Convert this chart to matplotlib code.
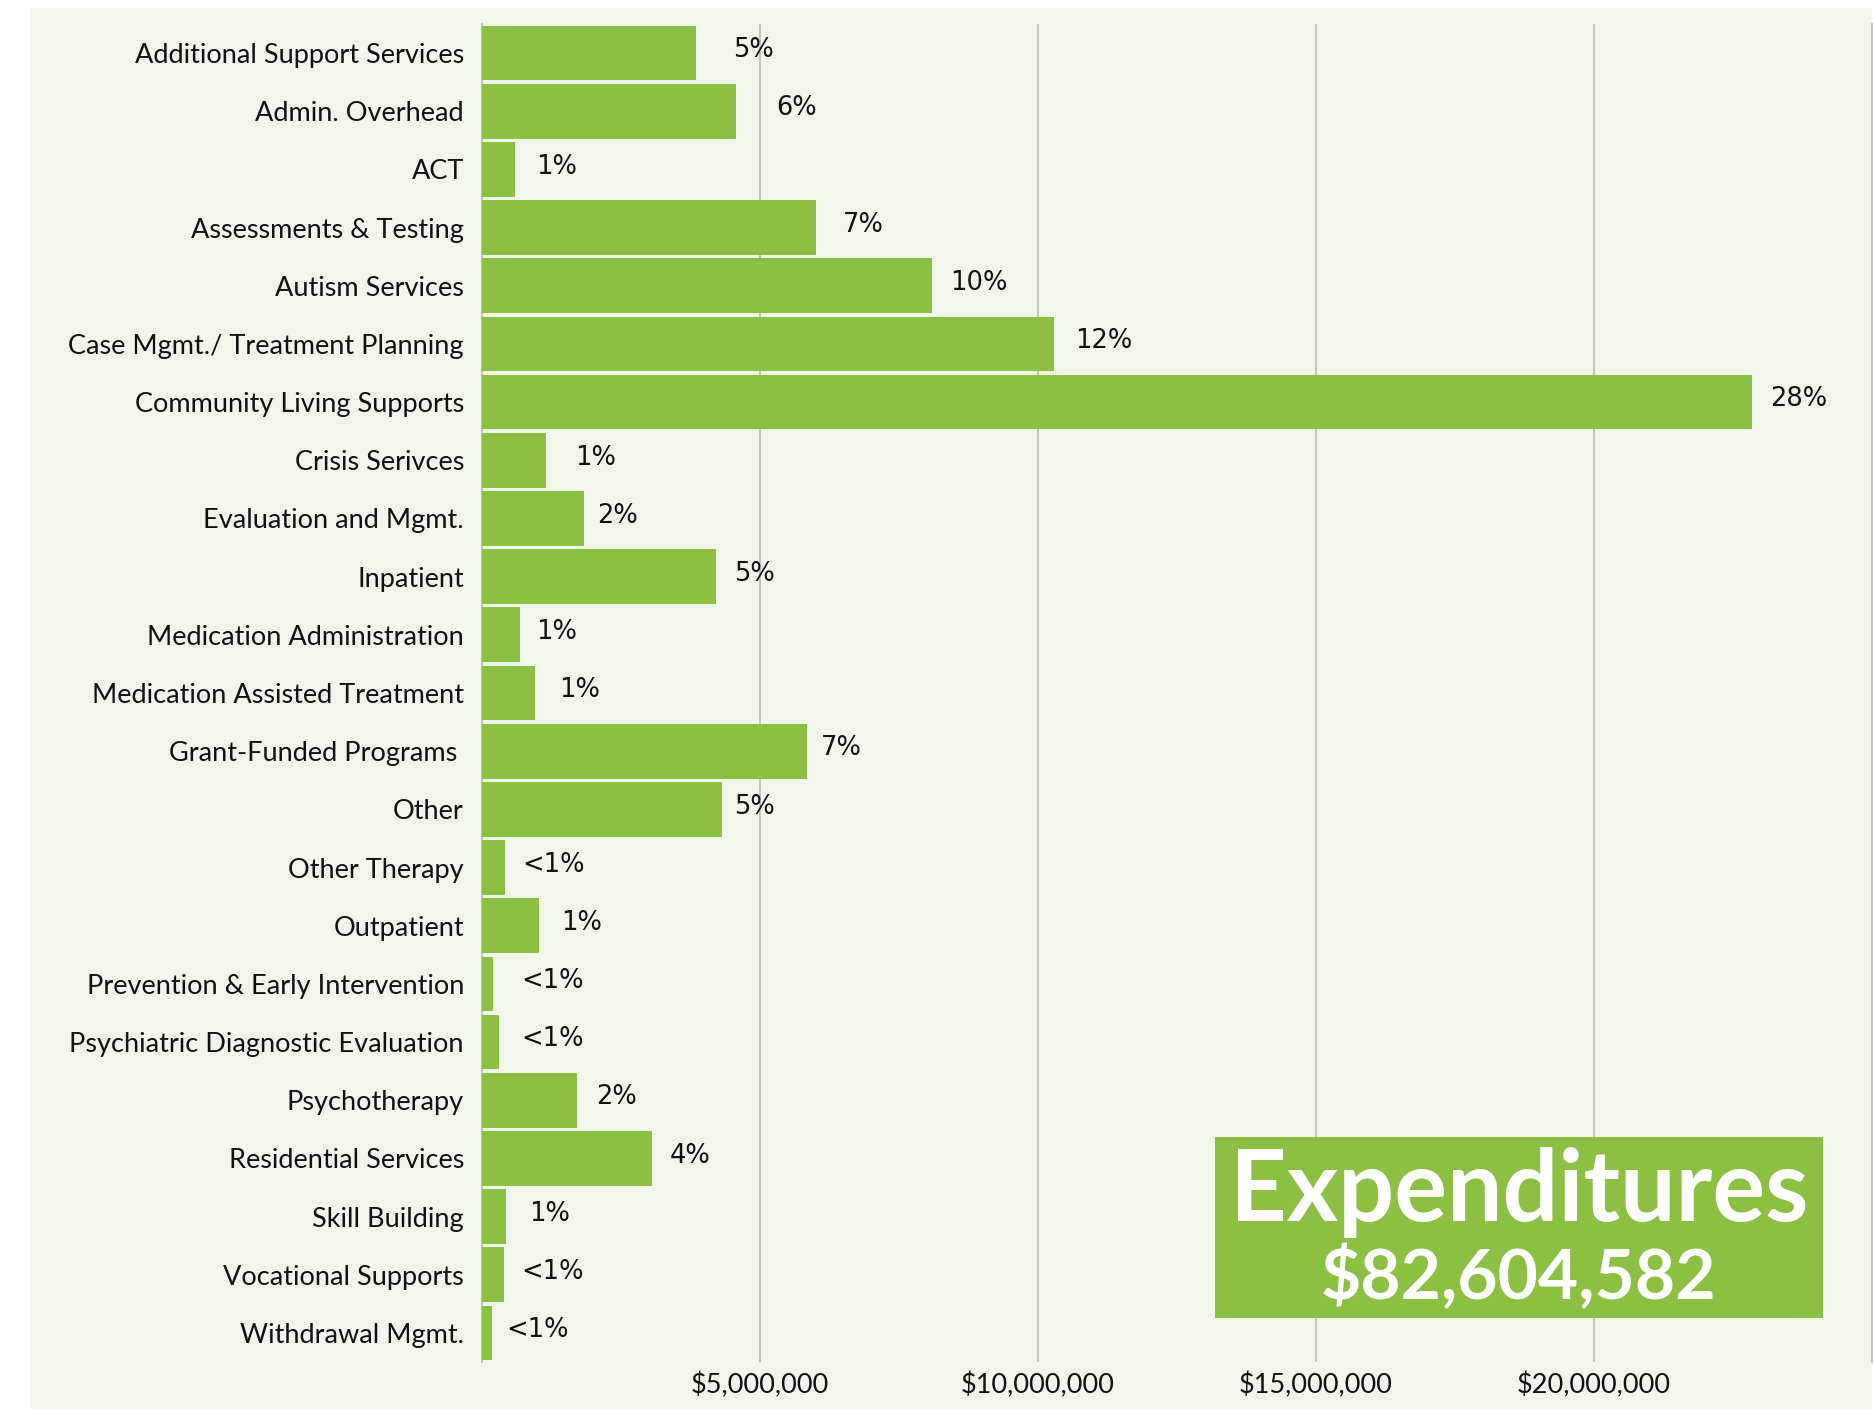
import numpy as np
import matplotlib
matplotlib.use("Agg")
import matplotlib.pyplot as plt
from matplotlib.patches import Rectangle
from matplotlib.transforms import ScaledTranslation

# ---- data ----
categories = [
    "Additional Support Services", "Admin. Overhead", "ACT", "Assessments & Testing",
    "Autism Services", "Case Mgmt./ Treatment Planning", "Community Living Supports",
    "Crisis Serivces", "Evaluation and Mgmt.", "Inpatient", "Medication Administration",
    "Medication Assisted Treatment", "Grant-Funded Programs ", "Other", "Other Therapy",
    "Outpatient", "Prevention & Early Intervention", "Psychiatric Diagnostic Evaluation",
    "Psychotherapy", "Residential Services", "Skill Building", "Vocational Supports",
    "Withdrawal Mgmt.",
]
amounts = [3.84e6, 4.57e6, 0.59e6, 6.01e6, 8.10e6, 10.29e6, 22.85e6, 1.15e6, 1.84e6,
           4.20e6, 0.68e6, 0.96e6, 5.84e6, 4.31e6, 0.42e6, 1.02e6, 0.20e6, 0.31e6,
           1.71e6, 3.06e6, 0.44e6, 0.40e6, 0.18e6]
pct_labels = ["5%", "6%", "1%", "7%", "10%", "12%", "28%", "1%", "2%", "5%", "1%", "1%",
              "7%", "5%", "<1%", "1%", "<1%", "<1%", "2%", "4%", "1%", "<1%", "<1%"]
x_ticks = [5e6, 10e6, 15e6, 20e6]
total_label = "$82,604,582"

# label gaps after bar end (points), hand placed in the original
GAPS = [27, 29, 15, 19, 13, 15, 13, 21, 9, 13, 12, 17, 10, 9, 12, 16, 20, 16, 14, 13, 16, 12, 10]

GREEN = "#8BC043"
BG = "#F1F6EC"
GRID = "#BDBFBA"
LABEL_FONT = "Lato"
W, H = 1874, 1409

fig = plt.figure(figsize=(W / 100, H / 100), dpi=100)
fig.patch.set_facecolor("white")
fig.patches.append(Rectangle((30 / W, 0), (1872 - 30) / W, (H - 8) / H,
                             transform=fig.transFigure, facecolor=BG, edgecolor="none",
                             zorder=-5))

ax = fig.add_axes([482 / W, 1 - 1362 / H, (1872 - 482) / W, (1362 - 24) / H])
ax.set_facecolor("none")

y = np.arange(len(categories))
ax.barh(y, amounts, height=0.94, color=GREEN, zorder=3)
ax.set_ylim(len(categories) - 0.5, -0.5)
ax.set_xlim(0, 25e6)

ax.set_yticks(y)
ax.set_yticklabels(categories, fontsize=19.5, family=LABEL_FONT, color="#111111")
# category names sit a touch above bar centres in the original
lift = ScaledTranslation(0, 3 / 72, fig.dpi_scale_trans)
for t in ax.get_yticklabels():
    t.set_transform(t.get_transform() + lift)
ax.set_xticks(x_ticks)
ax.set_xticklabels([f"${v:,.0f}" for v in x_ticks], fontsize=19.5, family=LABEL_FONT,
                   color="#111111")
ax.tick_params(axis="y", length=0, pad=13)
ax.tick_params(axis="x", length=0, pad=7)

ax.grid(axis="x", color=GRID, linewidth=1.3, zorder=0)
for s in ("top", "bottom"):
    ax.spines[s].set_visible(False)
for s in ("left", "right"):
    ax.spines[s].set_color(GRID)
    ax.spines[s].set_linewidth(1.3)

for i, (v, lab) in enumerate(zip(amounts, pct_labels)):
    ax.annotate(lab, (v, i), xytext=(GAPS[i], 2), textcoords="offset points",
                va="center", ha="left", fontsize=18.5, family="DejaVu Sans", color="#111111",
                zorder=4)

# total box
fig.patches.append(Rectangle((1215 / W, 1 - 1318 / H), (1823 - 1215) / W, (1318 - 1137) / H,
                             transform=fig.transFigure, facecolor=GREEN, edgecolor="none",
                             zorder=5))
fig.text((1215 + 1823) / 2 / W, 1 - 1192 / H, "Expenditures", ha="center", va="center",
         fontsize=71, fontweight="bold", family=LABEL_FONT, color="white", zorder=6)
fig.text((1215 + 1823) / 2 / W, 1 - 1278 / H, total_label, ha="center", va="center",
         fontsize=50, fontweight="bold", family=LABEL_FONT, color="white", zorder=6)

fig.savefig("out.png", dpi=100, facecolor="white")
